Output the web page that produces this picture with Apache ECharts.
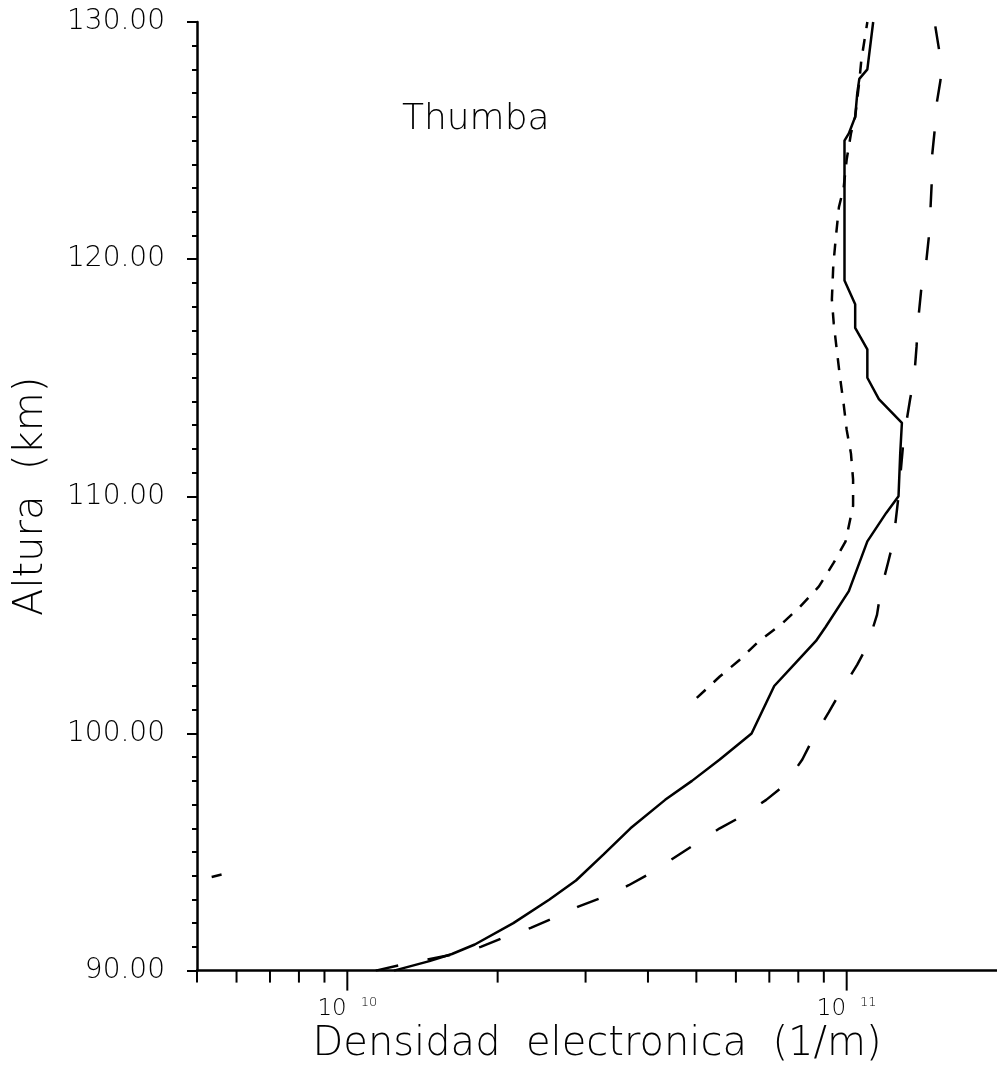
<!DOCTYPE html>
<html>
<head>
<meta charset="utf-8">
<script src="https://cdn.jsdelivr.net/npm/echarts@6/dist/echarts.min.js"></script>
<style>
  html, body { margin: 0; padding: 0; background: #fff; }
  #chart { width: 997px; height: 1070px; }
</style>
</head>
<body>
<div id="chart"></div>
<script>
// Electron density profiles over Thumba: altitude (km) vs electron density (log scale)

// Solid profile
const solidAlt = [90.0, 90.4, 90.7, 91.1, 92.0, 93.0, 93.8, 94.9, 96.0, 97.2, 98.0, 98.9, 100.0,
  102.0, 103.0, 103.9, 104.5, 106.0, 108.1, 109.3, 110.0, 111.8, 113.1, 114.1, 115.0, 116.2,
  117.1, 118.1, 119.1, 125.0, 125.3, 126.0, 127.0, 127.6, 128.0, 130.0];
const solidDens = [1.24e10, 1.46e10, 1.62e10, 1.80e10, 2.15e10, 2.54e10, 2.87e10, 3.26e10, 3.69e10,
  4.33e10, 4.90e10, 5.57e10, 6.45e10, 7.16e10, 7.92e10, 8.68e10, 9.08e10, 1.01e11, 1.10e11, 1.20e11,
  1.27e11, 1.28e11, 1.29e11, 1.16e11, 1.10e11, 1.10e11, 1.04e11, 1.04e11, 0.99e11, 0.99e11, 1.01e11,
  1.04e11, 1.05e11, 1.06e11, 1.10e11, 1.13e11];

// Short-dashed profile
const shortAlt = [101.5, 102.4, 103.1, 103.9, 104.6, 105.3, 106.2, 107.2, 108.1, 109.6, 110.7, 111.8,
  112.8, 113.9, 115.0, 116.2, 117.3, 118.3, 119.7, 120.8, 122.2, 123.0, 124.2, 125.3, 126.0, 127.5,
  128.4, 130.0];
const shortDens = [5.01e10, 5.57e10, 6.10e10, 6.68e10, 7.39e10, 8.03e10, 8.80e10, 9.42e10, 9.95e10,
  1.03e11, 1.03e11, 1.02e11, 1.00e11, 9.86e10, 9.70e10, 9.55e10, 9.42e10, 9.34e10, 9.40e10, 9.50e10,
  9.65e10, 9.86e10, 1.00e11, 1.02e11, 1.04e11, 1.06e11, 1.07e11, 1.10e11];

// Short fragment near the left edge
const strayAlt = [93.95, 94.05];
const strayDens = [5.35e9, 5.60e9];

// Long-dashed profile
const longAlt = [90.0, 90.3, 90.7, 91.0, 91.4, 91.8, 92.2, 92.7, 93.1, 93.6, 94.1, 96.0, 96.5, 97.2,
  97.8, 98.9, 99.7, 100.9, 101.7, 102.9, 103.7, 105.0, 106.0, 107.2, 108.1, 110.0, 112.4, 114.1,
  115.0, 116.3, 117.4, 118.7, 119.7, 120.9, 121.9, 123.2, 124.2, 125.4, 126.4, 127.5, 128.0, 128.5, 130.0];
const longDens = [1.14e10, 1.32e10, 1.64e10, 1.85e10, 2.06e10, 2.33e10, 2.58e10, 2.90e10, 3.26e10,
  3.66e10, 4.04e10, 5.57e10, 6.16e10, 6.90e10, 7.49e10, 8.15e10, 8.52e10, 9.21e10, 9.68e10, 1.05e11,
  1.10e11, 1.15e11, 1.17e11, 1.21e11, 1.24e11, 1.27e11, 1.30e11, 1.34e11, 1.365e11, 1.38e11, 1.39e11,
  1.41e11, 1.44e11, 1.46e11, 1.47e11, 1.48e11, 1.48e11, 1.50e11, 1.51e11, 1.54e11, 1.55e11, 1.54e11, 1.50e11];

// Axis extents and tick values
const xMin = 5e9, xMax = 2e11;
const yMin = 90, yMax = 130, yStep = 10;
const xMajorTicks = [1e10, 1e11];
const xMinorTicks = [5e9, 6e9, 7e9, 8e9, 9e9, 2e10, 3e10, 4e10, 5e10, 6e10, 7e10, 8e10, 9e10];
const xTickExponents = { 10: '10', 11: '11' };

const titleText = 'Thumba';
const xName = 'Densidad  electronica  (1/m)';
const yName = 'Altura  (km)';

const FONT = 'DejaVu Sans';
const WEIGHT = 200;

function pairs(xs, ys) { return xs.map((x, i) => [x, ys[i]]); }

const tickData = xMajorTicks.concat(xMinorTicks).map(v => [v, yMin]);

const chart = echarts.init(document.getElementById('chart'), null, { renderer: 'canvas' });

const lineBase = { type: 'line', symbol: 'none', smooth: false, animation: false, silent: true };

chart.setOption({
  backgroundColor: '#ffffff',
  animation: false,
  title: {
    text: titleText,
    left: 397, top: 97,
    textStyle: { fontFamily: FONT, fontWeight: WEIGHT, fontSize: 36, color: '#000' }
  },
  grid: { left: 197, right: 0, top: 22, bottom: 99, containLabel: false },
  xAxis: {
    type: 'log', logBase: 10, min: xMin, max: xMax,
    name: xName, nameLocation: 'middle', nameGap: 42,
    nameTextStyle: { fontFamily: FONT, fontWeight: WEIGHT, fontSize: 40, color: '#000' },
    axisLine: { show: true, lineStyle: { color: '#000', width: 2.5 } },
    axisTick: { show: false },
    splitLine: { show: false },
    axisLabel: {
      margin: 26,
      showMinLabel: false, showMaxLabel: false,
      formatter: function (v) {
        const e = Math.round(Math.log10(v));
        if (Math.abs(Math.log10(v) - e) > 1e-6 || !xTickExponents[e]) return '';
        return '{m|10}{s|' + xTickExponents[e] + '}';
      },
      rich: {
        m: { fontFamily: FONT, fontWeight: WEIGHT, fontSize: 23, color: '#000', lineHeight: 24 },
        s: { fontFamily: FONT, fontWeight: WEIGHT, fontSize: 13, color: '#000', padding: [0, 0, 10, 14], verticalAlign: 'top' }
      }
    }
  },
  yAxis: {
    type: 'value', min: yMin, max: yMax, interval: yStep,
    name: yName, nameLocation: 'middle', nameGap: 145, nameRotate: 90,
    nameTextStyle: { fontFamily: FONT, fontWeight: WEIGHT, fontSize: 40, color: '#000' },
    axisLine: { show: true, lineStyle: { color: '#000', width: 2.5 } },
    axisTick: { show: true, inside: false, length: 10, lineStyle: { color: '#000', width: 2 } },
    minorTick: { show: true, splitNumber: 10, length: 5, lineStyle: { color: '#000', width: 2 } },
    splitLine: { show: false },
    axisLabel: {
      margin: 32,
      fontFamily: FONT, fontWeight: WEIGHT, fontSize: 28, color: '#000',
      formatter: v => v.toFixed(2)
    }
  },
  series: [
    Object.assign({}, lineBase, {
      name: 'solid', data: pairs(solidDens, solidAlt),
      lineStyle: { color: '#000', width: 2.5, type: 'solid' }
    }),
    Object.assign({}, lineBase, {
      name: 'short dash', data: pairs(shortDens, shortAlt),
      lineStyle: { color: '#000', width: 2.5, type: [12, 11] }
    }),
    Object.assign({}, lineBase, {
      name: 'short dash fragment', data: pairs(strayDens, strayAlt),
      lineStyle: { color: '#000', width: 2.5, type: 'solid' }
    }),
    Object.assign({}, lineBase, {
      name: 'long dash', data: pairs(longDens, longAlt),
      lineStyle: { color: '#000', width: 2.5, type: [23, 30] }
    }),
    {
      // Tick marks below the logarithmic density axis (decades and intermediate values)
      type: 'custom', silent: true, animation: false, clip: false, z: 5,
      data: tickData,
      encode: { x: 0, y: 1 },
      renderItem: function (params, api) {
        const v = api.value(0);
        const p = api.coord([v, api.value(1)]);
        const major = xMajorTicks.indexOf(v) >= 0;
        return {
          type: 'line',
          shape: { x1: p[0], y1: p[1], x2: p[0], y2: p[1] + (major ? 20 : 12) },
          style: { stroke: '#000', lineWidth: 2 }
        };
      }
    }
  ]
});
</script>
</body>
</html>
